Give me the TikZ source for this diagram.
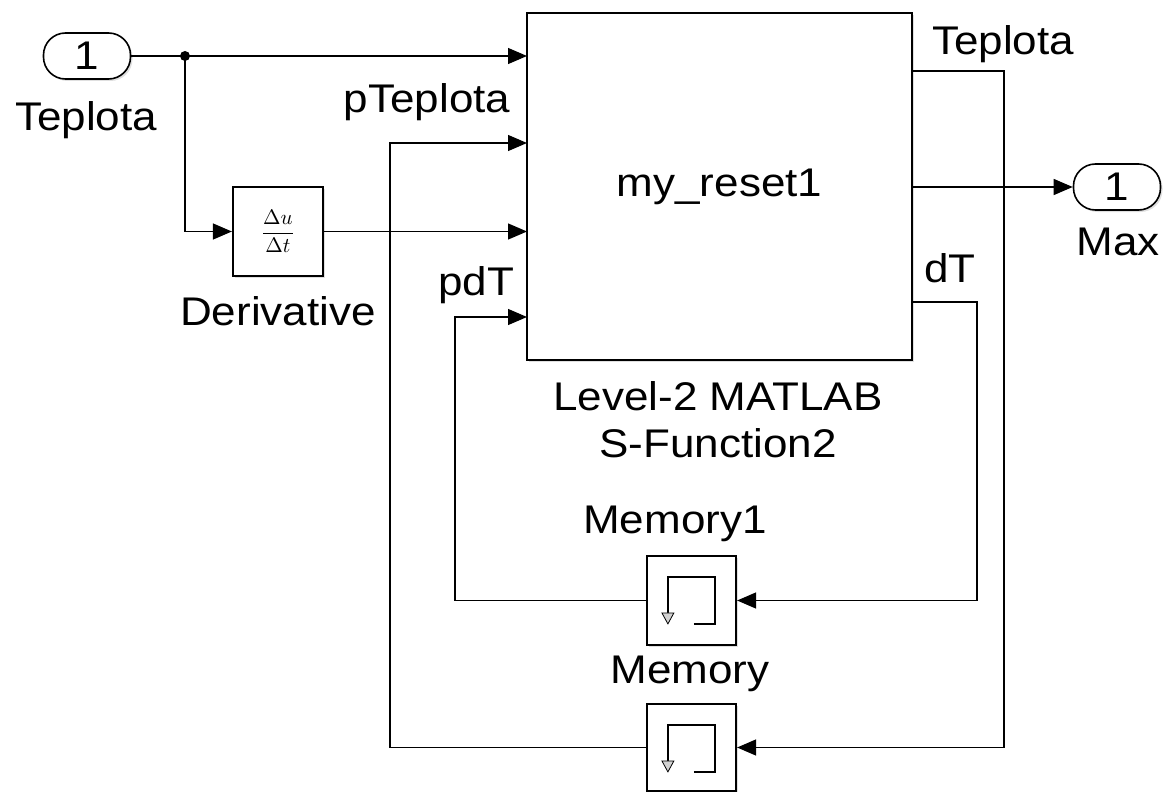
\documentclass[tikz,border=0pt]{standalone}
\usepackage{fontspec}
\usepackage{graphicx}
\setmainfont{Liberation Sans}[FakeStretch=1.1]
\usetikzlibrary{arrows.meta,shadows}
\begin{document}
\begin{tikzpicture}[x=1pt,y=-1pt,
  wire/.style={line width=1.3pt,-{Triangle[length=19pt,width=16pt]}},
  plain/.style={line width=1.3pt},
  blk/.style={draw,line width=2.2pt,fill=white,inner sep=0,
    drop shadow={opacity=0.25,shadow xshift=2pt,shadow yshift=-2pt}},
  port/.style={draw,line width=1.6pt,rounded corners=22pt,minimum width=87pt,
    minimum height=46pt,inner sep=0,fill=white,font=\fontsize{40}{48}\selectfont,
    drop shadow={opacity=0.25,shadow xshift=2pt,shadow yshift=-2pt}},
  lbl/.style={inner sep=0,anchor=base,font=\fontsize{40}{48}\selectfont},
  icon/.style={line width=1.5pt}]
\useasboundingbox (0,0) rectangle (1171,792);

% blocks
\node[port] (inp) at (87,56) {1};
\node[port] (outp) at (1117,187) {1};
\node[blk,minimum width=385pt,minimum height=347pt] (main) at (719.5,186.5)
  {\fontsize{40}{48}\selectfont my\_reset1};
\node[blk,minimum width=90pt,minimum height=89pt] (der) at (278,231.5)
  {\scalebox{2.1}{$\displaystyle\frac{\Delta u}{\Delta t}$}};
\node[blk,minimum width=89pt,minimum height=89pt] (mem1) at (691.5,600.5) {};
\node[blk,minimum width=89pt,minimum height=87pt] (mem) at (691.5,747.5) {};

% memory icons
\foreach \b in {mem1,mem}{
  \begin{scope}[shift={(\b.north west)}]
    \draw[icon] (48,69) -- (69,69) -- (69,22) -- (22,22) -- (22,58);
    \draw[line width=0.8pt,fill=gray!35] (16,58) -- (28,58) -- (22,69) -- cycle;
  \end{scope}
}

% labels
\node[lbl] (l-inp) at (86,130) {Teplota};
\node[lbl] (l-max) at (1118,255) {Max};
\node[lbl] (l-der) at (278,325) {Derivative};
\node[lbl] (l-s1) at (718,410) {Level-2 MATLAB};
\node[lbl] (l-s2) at (718,457) {S-Function2};
\node[lbl] (l-mem1) at (675,533) {Memory1};
\node[lbl] (l-mem) at (690,683) {Memory};
\node[lbl] (l-pt) at (427,113) {pTeplota};
\node[lbl] (l-pdt) at (476,295) {pdT};
\node[lbl] (l-to) at (1003,55) {Teplota};
\node[lbl] (l-dt) at (950,282) {dT};

% port coordinates
\coordinate (in1) at (527,56);
\coordinate (in2) at (527,143);
\coordinate (in3) at (527,231.5);
\coordinate (in4) at (527,317);
\coordinate (out1) at (912,71);
\coordinate (out2) at (912,187);
\coordinate (out3) at (912,302);
\coordinate (br) at (185,56);

% connectors
\draw[plain] (inp.east) -- (br);
\draw[wire] (br) -- (in1);
\fill (br) circle (5pt);
\draw[wire] (br) |- (der.west);
\draw[wire] (der.east) -- (in3);
\draw[wire] (out2) -- (outp.west);
\draw[wire] (out1) -- (1004,71) |- (mem.east);
\draw[wire] (out3) -- (977,302) |- (mem1.east);
\draw[wire] (mem1.west) -- (455,600.5) |- (in4);
\draw[wire] (mem.west) -- (390,747.5) |- (in2);
\end{tikzpicture}
\end{document}
